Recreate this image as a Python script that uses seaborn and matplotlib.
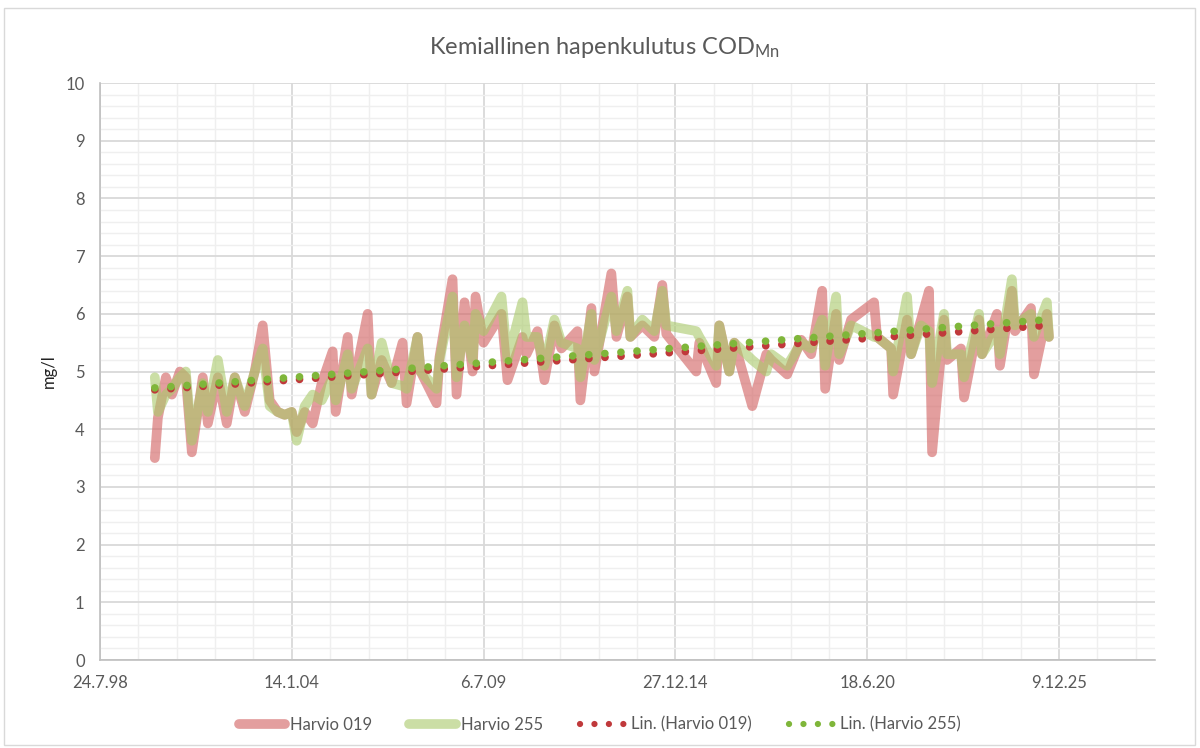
import matplotlib
matplotlib.use("Agg")
import matplotlib.pyplot as plt
import matplotlib.dates as mdates
from matplotlib.ticker import MultipleLocator, FixedLocator, FuncFormatter
from matplotlib.lines import Line2D
from matplotlib.patches import Rectangle
import seaborn as sns
import numpy as np
import pandas as pd

# sampling dates (shared by both stations)
dates = [
    "2000-02-16", "2000-03-19", "2000-06-10", "2000-08-12", "2000-11-03", "2001-01-04",
    "2001-03-08", "2001-06-30", "2001-08-22", "2001-12-04", "2002-03-07", "2002-05-30",
    "2002-09-11", "2002-12-24", "2003-03-17", "2003-05-29", "2003-08-20", "2003-11-01",
    "2004-01-13", "2004-03-05", "2004-05-28", "2004-08-19", "2004-11-21", "2005-03-15",
    "2005-04-16", "2005-08-19", "2005-09-29", "2006-03-15", "2006-04-25", "2006-08-08",
    "2006-11-20", "2007-03-14", "2007-04-25", "2007-08-17", "2007-09-18", "2008-03-02",
    "2008-04-02", "2008-08-16", "2008-09-27", "2008-12-19", "2009-03-13", "2009-04-13",
    "2009-07-05", "2010-01-08", "2010-03-12", "2010-08-15", "2010-09-26", "2011-01-18",
    "2011-04-01", "2011-07-14", "2011-09-25", "2012-03-10", "2012-04-10", "2012-08-03",
    "2012-09-03", "2013-02-27", "2013-04-21", "2013-08-13", "2013-09-13", "2014-01-16",
    "2014-05-21", "2014-08-12", "2014-09-23", "2015-08-01", "2015-09-02", "2016-02-25",
    "2016-03-28", "2016-07-10", "2016-09-01", "2017-03-07", "2017-07-31", "2017-09-21",
    "2018-03-06", "2018-07-30", "2018-11-11", "2019-03-06", "2019-04-06", "2019-07-29",
    "2019-08-30", "2020-01-02", "2020-08-28", "2020-09-28", "2021-02-22", "2021-03-15",
    "2021-08-07", "2021-09-18", "2021-12-31", "2022-03-24", "2022-04-25", "2022-08-27",
    "2022-09-28", "2023-02-20", "2023-03-24", "2023-08-27", "2023-09-27", "2024-03-01",
    "2024-04-01", "2024-08-04", "2024-09-05", "2025-02-19", "2025-03-22", "2025-08-04",
    "2025-08-25",
]

harvio_019 = [
    3.5, 4.2, 4.9, 4.6, 5.0, 4.9,
    3.6, 4.9, 4.1, 4.9, 4.1, 4.9,
    4.3, 5.0, 5.8, 4.5, 4.3, 4.25,
    4.3, 3.95, 4.3, 4.1, 4.8, 5.35,
    4.3, 5.6, 4.6, 6.0, 4.6, 5.2,
    4.8, 5.5, 4.45, 5.6, 5.0, 4.45,
    5.25, 6.6, 4.6, 6.2, 5.0, 6.3,
    5.5, 6.0, 4.85, 5.6, 5.3, 5.7,
    4.85, 5.8, 5.4, 5.7, 4.5, 6.1,
    5.0, 6.7, 5.6, 6.3, 5.6, 5.8,
    5.6, 6.5, 5.65, 5.0, 5.5, 4.8,
    5.8, 5.0, 5.5, 4.4, 5.3, 5.2,
    4.95, 5.55, 5.3, 6.4, 4.7, 6.0,
    5.2, 5.9, 6.2, 5.6, 5.4, 4.6,
    5.9, 5.3, 5.9, 6.4, 3.6, 5.9,
    5.2, 5.4, 4.55, 5.9, 5.3, 6.0,
    5.1, 6.4, 5.7, 6.1, 4.95, 6.0,
    5.6,
]

harvio_255 = [
    4.9, 4.3, 4.6, 4.7, 4.9, 5.0,
    3.8, 4.8, 4.3, 5.2, 4.3, 4.9,
    4.4, 5.0, 5.4, 4.4, 4.3, 4.25,
    4.3, 3.8, 4.4, 4.6, 4.5, 4.9,
    4.5, 5.3, 4.7, 5.4, 4.6, 5.5,
    4.8, 4.75, 4.7, 5.6, 5.0, 4.7,
    5.2, 6.3, 4.9, 5.8, 5.2, 6.0,
    5.7, 6.3, 5.2, 6.2, 5.6, 5.6,
    5.1, 5.9, 5.5, 5.4, 4.9, 6.0,
    5.2, 6.3, 5.7, 6.4, 5.6, 5.9,
    5.7, 6.4, 5.8, 5.7, 5.6, 5.1,
    5.8, 5.0, 5.5, 5.2, 5.0, 5.3,
    5.1, 5.5, 5.4, 5.9, 5.1, 6.3,
    5.3, 5.8, 5.6, 5.6, 5.4, 5.0,
    6.3, 5.3, 5.8, 5.7, 4.8, 6.0,
    5.3, 5.3, 4.9, 6.0, 5.3, 5.7,
    5.3, 6.6, 5.8, 6.0, 5.6, 6.2,
    5.6,
]

series_names = ["Harvio 019", "Harvio 255"]
trend_names = ["Lin. (Harvio 019)", "Lin. (Harvio 255)"]
line_colors = ["#d46a6a", "#a9c96a"]
trend_colors = ["#c0393b", "#7fb63a"]

# x axis in Excel style: start 24.7.98, major every 2000 days, minor every 400 days
x_start = pd.Timestamp("1998-07-24")
x_end = x_start + pd.Timedelta(days=11000)

df = pd.DataFrame({"date": pd.to_datetime(dates),
                   series_names[0]: harvio_019,
                   series_names[1]: harvio_255})

sns.set_style("white")
plt.rcParams["font.family"] = ["Lato", "DejaVu Sans"]
plt.rcParams["mathtext.fontset"] = "custom"
plt.rcParams["mathtext.rm"] = "Lato"
plt.rcParams["mathtext.it"] = "Lato"

fig = plt.figure(figsize=(12, 7.48), dpi=100)
ax = fig.add_axes([0.0833, 0.1176, 0.8792, 0.7714])

grey_txt = "#595959"

for name, col, alpha in zip(series_names, line_colors, [0.65, 0.6]):
    sns.lineplot(data=df, x="date", y=name, ax=ax, color=col, alpha=alpha,
                 linewidth=7, estimator=None, sort=False,
                 solid_joinstyle="round", solid_capstyle="round", zorder=3)

# linear trend lines
xnum = mdates.date2num(df["date"])
xfit = np.linspace(xnum.min(), xnum.max(), 2)
for name, col in zip(series_names, trend_colors):
    k, b = np.polyfit(xnum, df[name].values, 1)
    ax.plot(mdates.num2date(xfit), k * xfit + b, color=col, linewidth=5.5,
            linestyle=(0, (0.01, 2.1)), dash_capstyle="round", zorder=4)

ax.set_xlim(x_start, x_end)
ax.set_ylim(0, 10)

major = [mdates.date2num(x_start + pd.Timedelta(days=2000 * i)) for i in range(6)]
minor = [mdates.date2num(x_start + pd.Timedelta(days=400 * i)) for i in range(28)]
ax.xaxis.set_major_locator(FixedLocator(major))
ax.xaxis.set_minor_locator(FixedLocator(minor))


def fmt_date(v, pos):
    d = mdates.num2date(v)
    return f"{d.day}.{d.month}.{d.strftime('%y')}"


ax.xaxis.set_major_formatter(FuncFormatter(fmt_date))
ax.yaxis.set_major_locator(MultipleLocator(1))
ax.yaxis.set_minor_locator(MultipleLocator(0.2))

ax.grid(which="major", color="#d9d9d9", linewidth=1.3, zorder=0)
ax.grid(which="minor", color="#efefef", linewidth=1.0, zorder=0)
ax.set_axisbelow(True)

for s in ["top", "right"]:
    ax.spines[s].set_visible(False)
for s in ["left", "bottom"]:
    ax.spines[s].set_color("#bfbfbf")
    ax.spines[s].set_linewidth(1.2)

ax.tick_params(axis="both", which="major", length=5, color="#bfbfbf",
               labelsize=12, labelcolor=grey_txt, pad=6)
ax.tick_params(axis="both", which="minor", length=0)

ax.set_xlabel("")
ax.set_ylabel("mg/l", fontsize=12, color="#222222", labelpad=6)

fig.text(0.504, 0.937, r"Kemiallinen hapenkulutus COD$_{\mathrm{Mn}}$",
         ha="center", va="center", fontsize=17, color=grey_txt)

handles = [
    Line2D([], [], color=line_colors[0], alpha=0.65, linewidth=7),
    Line2D([], [], color=line_colors[1], alpha=0.6, linewidth=7),
    Line2D([], [], color=trend_colors[0], linewidth=4.5,
           linestyle=(0, (0.01, 2.3)), dash_capstyle="round"),
    Line2D([], [], color=trend_colors[1], linewidth=4.5,
           linestyle=(0, (0.01, 2.3)), dash_capstyle="round"),
]
fig.legend(handles, series_names + trend_names, loc="center",
           bbox_to_anchor=(0.5, 0.031), ncol=4, frameon=False,
           fontsize=12, labelcolor=grey_txt, handlelength=2.8,
           handletextpad=0.3, columnspacing=2.2)

fig.patches.append(Rectangle((0.003, 0.004), 0.993, 0.985, transform=fig.transFigure,
                             fill=False, edgecolor="#d9d9d9", linewidth=1.0))

fig.savefig("out.png", dpi=100)
